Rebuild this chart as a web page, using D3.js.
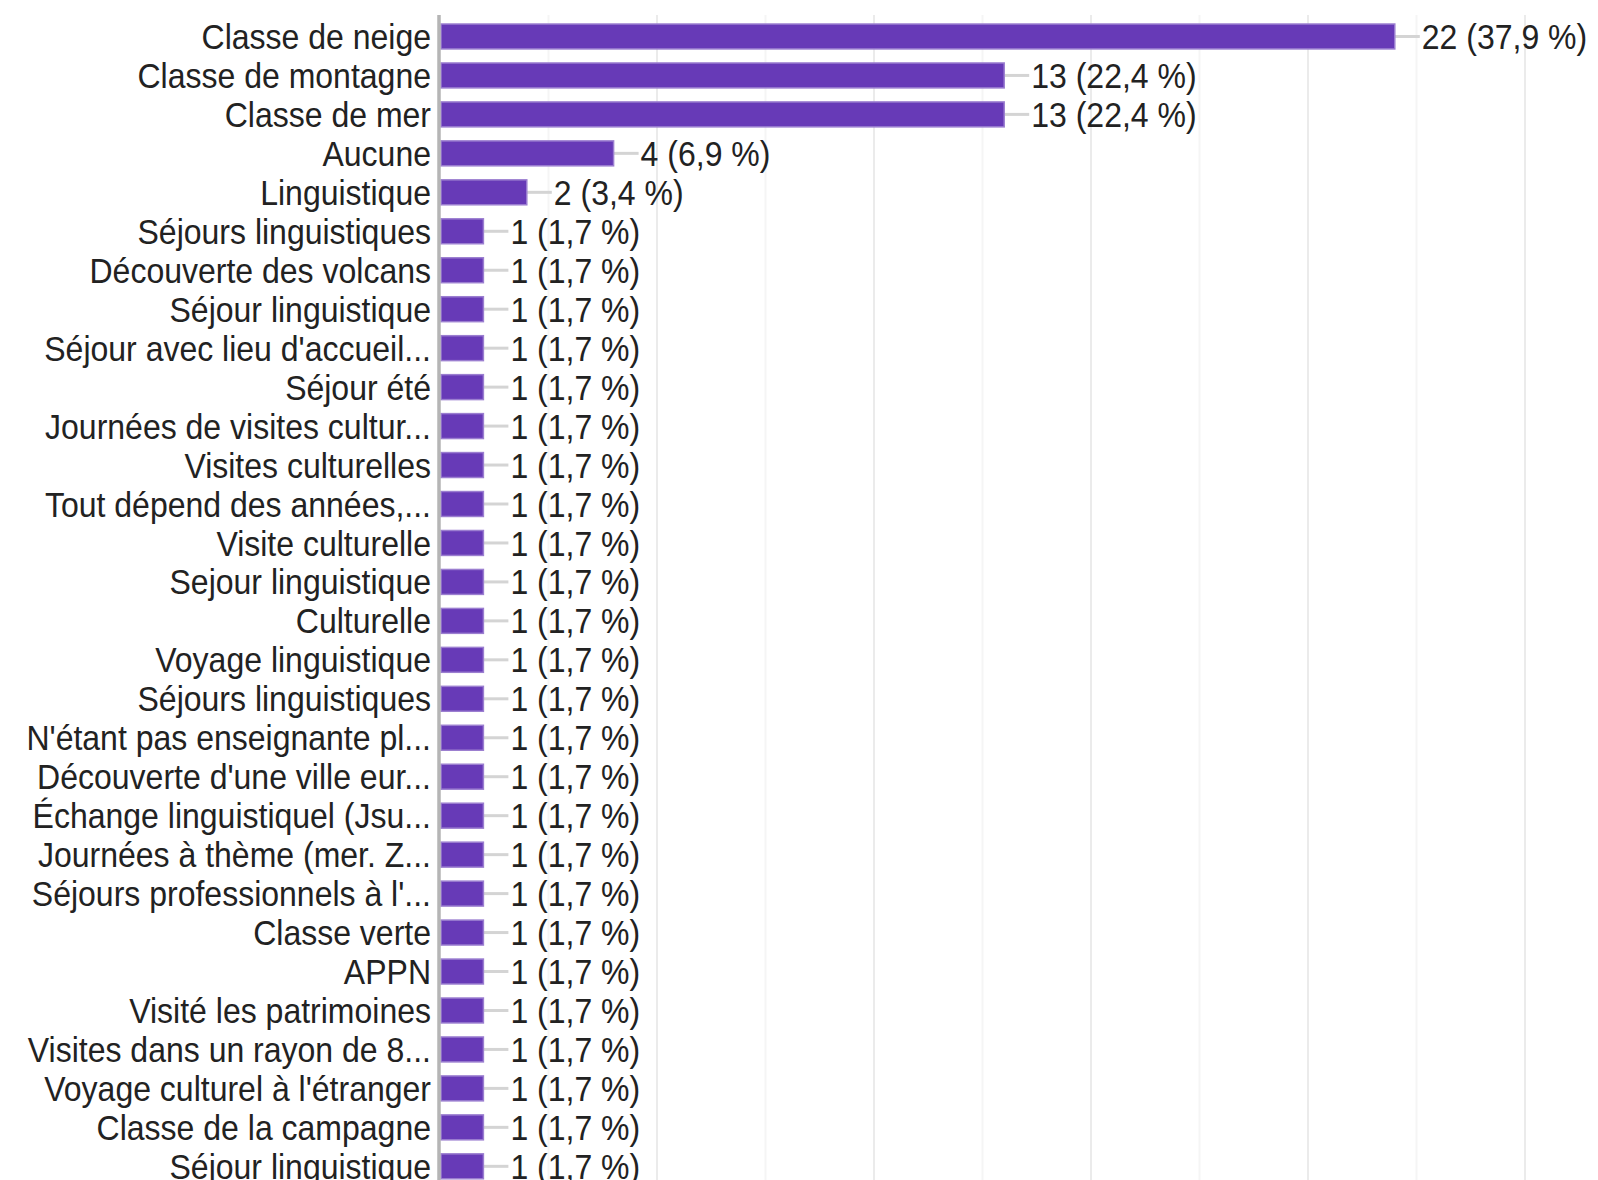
<!DOCTYPE html>
<html>
<head>
<meta charset="utf-8">
<script src="https://cdn.jsdelivr.net/npm/d3@7"></script>
<style>
  html, body { margin: 0; padding: 0; background: #fff; overflow: hidden; }
  text { font-family: "Liberation Sans", Arial, sans-serif; }
</style>
</head>
<body>
<div id="chart"></div>
<script>
// Data
const categories = [
  "Classe de neige",
  "Classe de montagne",
  "Classe de mer",
  "Aucune",
  "Linguistique",
  "Séjours linguistiques",
  "Découverte des volcans",
  "Séjour linguistique",
  "Séjour avec lieu d'accueil...",
  "Séjour été",
  "Journées de visites cultur...",
  "Visites culturelles",
  "Tout dépend des années,...",
  "Visite culturelle",
  "Sejour linguistique",
  "Culturelle",
  "Voyage linguistique",
  "Séjours linguistiques",
  "N'étant pas enseignante pl...",
  "Découverte d'une ville eur...",
  "Échange linguistiquel (Jsu...",
  "Journées à thème (mer. Z...",
  "Séjours professionnels à l'...",
  "Classe verte",
  "APPN",
  "Visité les patrimoines",
  "Visites dans un rayon de 8...",
  "Voyage culturel à l'étranger",
  "Classe de la campagne",
  "Séjour linguistique"
]
const counts = [22, 13, 13, 4, 2, 1, 1, 1, 1, 1, 1, 1, 1, 1, 1, 1, 1, 1, 1, 1, 1, 1, 1, 1, 1, 1, 1, 1, 1, 1]
const percents = ["37,9", "22,4", "22,4", "6,9", "3,4", "1,7", "1,7", "1,7", "1,7", "1,7",
  "1,7", "1,7", "1,7", "1,7", "1,7", "1,7", "1,7", "1,7", "1,7", "1,7",
  "1,7", "1,7", "1,7", "1,7", "1,7", "1,7", "1,7", "1,7", "1,7", "1,7"]
const gridTicks = [2.5, 5, 7.5, 10, 12.5, 15, 17.5, 20, 22.5, 25]

const dataset = categories.map((name, i) => ({
  idx: i,
  name: name,
  count: counts[i],
  label: `${counts[i]} (${percents[i]} %)`
}))

// Dimensions
let dimensions = {
  width: 1598,
  height: 1180,
  axisX: 440,
  maxX: 1525,
  top: 15,
  step: 38.96,
}

const textStretch = 'scale(1,1.09)'

// Draw Image
const svg = d3.select('#chart')
  .append('svg')
  .attr('width', dimensions.width)
  .attr('height', dimensions.height)

// Scales
const xScale = d3.scaleLinear()
  .domain([0, 25])
  .range([dimensions.axisX, dimensions.maxX])

const yStart = dimensions.top + 2
const yScale = d3.scaleBand()
  .domain(dataset.map(d => d.idx))
  .range([yStart, yStart + dimensions.step * dataset.length])
  .paddingInner(0.36)
  .paddingOuter(0.18)

// gridlines
svg.append('g')
  .selectAll('line')
  .data(gridTicks)
  .join('line')
  .attr('x1', d => xScale(d))
  .attr('x2', d => xScale(d))
  .attr('y1', dimensions.top)
  .attr('y2', dimensions.height)
  .attr('stroke', d => d % 5 === 0 ? '#ebebeb' : '#f5f5f5')
  .attr('stroke-width', 2)

// connectors
svg.append('g')
  .selectAll('line')
  .data(dataset)
  .join('line')
  .attr('x1', d => xScale(d.count))
  .attr('x2', d => xScale(d.count) + 25)
  .attr('y1', d => yScale(d.idx) + yScale.bandwidth() / 2)
  .attr('y2', d => yScale(d.idx) + yScale.bandwidth() / 2)
  .attr('stroke', '#d4d4d4')
  .attr('stroke-width', 3)

// bars
svg.append('g')
  .selectAll('rect')
  .data(dataset)
  .join('rect')
  .attr('x', xScale(0) + 1)
  .attr('y', d => yScale(d.idx))
  .attr('width', d => xScale(d.count) - xScale(0) - 1)
  .attr('height', yScale.bandwidth())
  .attr('fill', '#673ab7')
  .attr('stroke', '#9b7ed0')
  .attr('stroke-width', 1.5)

// axis line
svg.append('line')
  .attr('x1', dimensions.axisX - 1)
  .attr('x2', dimensions.axisX - 1)
  .attr('y1', dimensions.top)
  .attr('y2', dimensions.height)
  .attr('stroke', '#b5b5b5')
  .attr('stroke-width', 3.5)

// category labels
svg.append('g')
  .selectAll('text')
  .data(dataset)
  .join('text')
  .attr('transform', d => `translate(431, ${yScale(d.idx) + yScale.bandwidth() / 2}) ${textStretch}`)
  .attr('dy', '0.36em')
  .attr('text-anchor', 'end')
  .attr('font-size', 32)
  .attr('fill', '#222')
  .text(d => d.name)

// value labels
svg.append('g')
  .selectAll('text')
  .data(dataset)
  .join('text')
  .attr('transform', d => `translate(${xScale(d.count) + 27}, ${yScale(d.idx) + yScale.bandwidth() / 2}) ${textStretch}`)
  .attr('dy', '0.36em')
  .attr('font-size', 32)
  .attr('fill', '#222')
  .text(d => d.label)
</script>
</body>
</html>
